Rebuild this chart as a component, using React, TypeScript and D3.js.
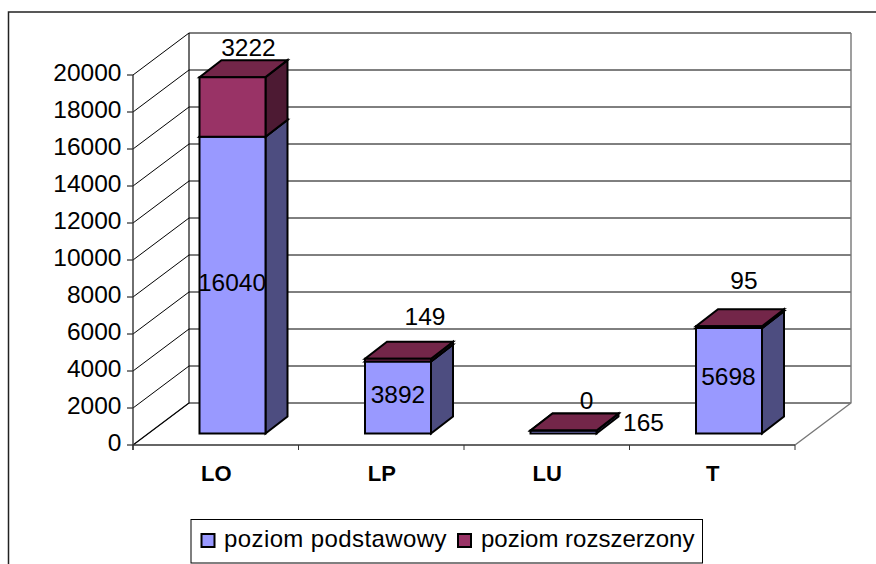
import React from "react";
import * as d3 from "d3";

const categories = ["LO", "LP", "LU", "T"];
const podstawowy = [16040, 3892, 165, 5698];
const rozszerzony = [3222, 149, 0, 95];
const yTicks = [0, 2000, 4000, 6000, 8000, 10000, 12000, 14000, 16000, 18000, 20000];
const seriesNames = ["poziom podstawowy", "poziom rozszerzony"];
const font = "Liberation Sans, Arial, sans-serif";

const W = 876, H = 564;
const floorY = 445, left = 133, right = 795;
const depthX = 56, depthY = 42;
const barDX = 22, barDY = 17;
const x = d3.scaleBand<string>().domain(categories).range([left, right]);
const y = d3.scaleLinear().domain([0, 20000]).range([0, 370]);
const baseY = 433.5;
const barWidth = 66;

function Poly({ pts, fill, sw = 2 }: { pts: [number, number][]; fill: string; sw?: number }) {
  return <polygon points={pts.map((p) => p.join(",")).join(" ")} fill={fill} stroke="#000" strokeWidth={sw} strokeLinejoin="miter" />;
}

function Segment({ x0, yb, yt, front, side, top }: { x0: number; yb: number; yt: number; front: string; side: string; top: string }) {
  const x1 = x0 + barWidth;
  return (
    <g>
      <Poly pts={[[x1, yb], [x1 + barDX, yb - barDY], [x1 + barDX, yt - barDY], [x1, yt]]} fill={side} />
      <Poly pts={[[x0, yt], [x1, yt], [x1 + barDX, yt - barDY], [x0 + barDX, yt - barDY]]} fill={top} />
      <Poly pts={[[x0, yb], [x1, yb], [x1, yt], [x0, yt]]} fill={front} />
    </g>
  );
}

export default function App() {
  return (
    <svg width={W} height={H} style={{ position: "absolute", left: 0, top: 0, display: "block" }} fontFamily={font}>
      <rect x={0} y={0} width={W} height={H} fill="#fff" />
      <path d={`M8.5,${H} V12 H${W}`} fill="none" stroke="#222" strokeWidth={1.5} />

      {/* walls */}
      <path d={`M${left + depthX},${floorY - depthY - 370} V${floorY - depthY} L${left},${floorY}`} fill="none" stroke="#333" strokeWidth={1.4} />
      {yTicks.map((t) => {
        const yy = floorY - y(t);
        return (
          <g key={t}>
            <path d={`M${left},${yy} L${left + depthX},${yy - depthY} H${right + depthX}`} fill="none" stroke="#000" strokeWidth={1} />
            <line x1={left - 6} x2={left} y1={yy} y2={yy} stroke="#000" />
            <text x={121.5} y={yy + 6} textAnchor="end" fontSize={24.5} fill="#000">{t}</text>
          </g>
        );
      })}
      <path d={`M${right + depthX},${floorY - depthY - 370} V${floorY - depthY} L${right},${floorY}`} fill="none" stroke="#777" strokeWidth={1.4} />
      <line x1={left} x2={left} y1={floorY - 370} y2={floorY + 5} stroke="#333" strokeWidth={1.4} />
      <line x1={left} x2={right} y1={floorY} y2={floorY} stroke="#333" strokeWidth={1.4} />
      {categories.map((c) => (
        <line key={c} x1={x(c)} x2={x(c)} y1={floorY} y2={floorY + 5} stroke="#333" />
      ))}
      <line x1={right} x2={right} y1={floorY} y2={floorY + 5} stroke="#333" />

      {/* bars */}
      {categories.map((c, i) => {
        const x0 = x(c)! + 66.5;
        const y1 = baseY - y(podstawowy[i]);
        const y2 = y1 - y(rozszerzony[i]);
        return (
          <g key={c}>
            <Segment x0={x0} yb={baseY} yt={y1} front="#9999ff" side="#4d4d80" top="#4d4d80" />
            <Segment x0={x0} yb={y1} yt={y2} front="#993366" side="#4d1a33" top="#732649" />
          </g>
        );
      })}

      {/* data labels */}
      <text x={232} y={291} textAnchor="middle" fontSize={24.5}>{podstawowy[0]}</text>
      <text x={398} y={402.5} textAnchor="middle" fontSize={24.5}>{podstawowy[1]}</text>
      <text x={643.5} y={431} textAnchor="middle" fontSize={24.5}>{podstawowy[2]}</text>
      <text x={728.5} y={385} textAnchor="middle" fontSize={24.5}>{podstawowy[3]}</text>
      <text x={248.5} y={55.5} textAnchor="middle" fontSize={24.5}>{rozszerzony[0]}</text>
      <text x={425} y={325} textAnchor="middle" fontSize={24.5}>{rozszerzony[1]}</text>
      <text x={586.5} y={409} textAnchor="middle" fontSize={24.5}>{rozszerzony[2]}</text>
      <text x={744} y={289} textAnchor="middle" fontSize={24.5}>{rozszerzony[3]}</text>

      {/* category labels */}
      {categories.map((c) => (
        <text key={c} x={x(c)! + x.bandwidth() / 2 + 0.5} y={481} textAnchor="middle" fontSize={22} fontWeight="bold">{c}</text>
      ))}

      {/* legend */}
      <rect x={191} y={519.5} width={511.5} height={43.5} fill="#fff" stroke="#000" />
      <rect x={201.5} y={534} width={13} height={13} fill="#9999ff" stroke="#000" strokeWidth={2} />
      <text x={224} y={547} fontSize={24} letterSpacing={0.4}>{seriesNames[0]}</text>
      <rect x={458} y={534} width={13} height={13} fill="#993366" stroke="#000" strokeWidth={2} />
      <text x={481} y={547} fontSize={24}>{seriesNames[1]}</text>
    </svg>
  );
}
